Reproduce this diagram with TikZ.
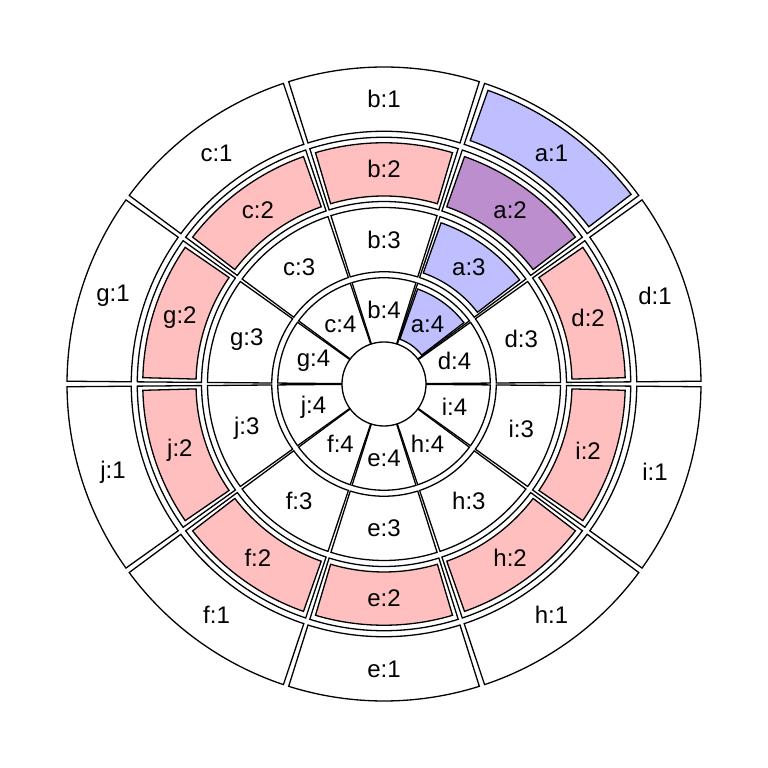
\documentclass[tikz,border=0pt]{standalone}
\usepackage{fontspec}
\setmainfont{Liberation Sans}
\definecolor{sbblue}{RGB}{191,191,255}
\definecolor{sbpink}{RGB}{255,191,191}
\definecolor{sbpurple}{RGB}{189,142,206}
\newcommand\sbsector[5]{%
  \draw[#5] (#1:#3) -- (#1:#4) arc[start angle=#1,end angle=#2,radius=#4]
    -- (#2:#3) arc[start angle=#2,end angle=#1,radius=#3] -- cycle;}
\begin{document}
\begin{tikzpicture}[x=1pt,y=1pt,line width=1.3pt,line join=miter,
  seg/.style={draw=black,fill=white},
  lab/.style={font=\fontsize{24}{28}\selectfont,inner sep=0pt}]
\useasboundingbox (0,0) rectangle (768,768);
\begin{scope}[shift={(384,384)}]
\foreach \n/\s in {d/0,a/36,b/72,c/108,g/144,j/180,f/216,e/252,h/288,i/324}{
  \foreach \k in {1,2,3,4}{
    \pgfmathsetmacro\ri{39+(4-\k)*70.25}
    \pgfmathsetmacro\aa{\s+0.5}
    \pgfmathsetmacro\ab{\s+35.5}
    \pgfmathsetmacro\rr{\ri+3}
    \pgfmathsetmacro\RR{\ri+67.25}
    \sbsector{\aa}{\ab}{\rr}{\RR}{seg}
  }
}
\foreach \s/\k/\c in {36/1/sbblue,36/2/sbpurple,36/3/sbblue,36/4/sbblue,
  0/2/sbpink,72/2/sbpink,108/2/sbpink,144/2/sbpink,180/2/sbpink,
  216/2/sbpink,252/2/sbpink,288/2/sbpink,324/2/sbpink}{
    \pgfmathsetmacro\ri{39+(4-\k)*70.25}
    \pgfmathsetmacro\aa{\s+1.5}
    \pgfmathsetmacro\ab{\s+34.5}
    \pgfmathsetmacro\rr{\ri+8.5}
    \pgfmathsetmacro\RR{\ri+61.75}
    \sbsector{\aa}{\ab}{\rr}{\RR}{draw=black,fill=\c}
}
\foreach \n/\s in {d/0,a/36,b/72,c/108,g/144,j/180,f/216,e/252,h/288,i/324}{
  \foreach \k in {1,2,3,4}{
    \pgfmathsetmacro\ri{39+(4-\k)*70.25}
    \pgfmathsetmacro\am{\s+18}
    \pgfmathsetmacro\rm{\ri+35.125}
    \node[lab] (lab-\n-\k) at (\am:\rm) {\n:\k};
  }
}
\end{scope}
\end{tikzpicture}
\end{document}
